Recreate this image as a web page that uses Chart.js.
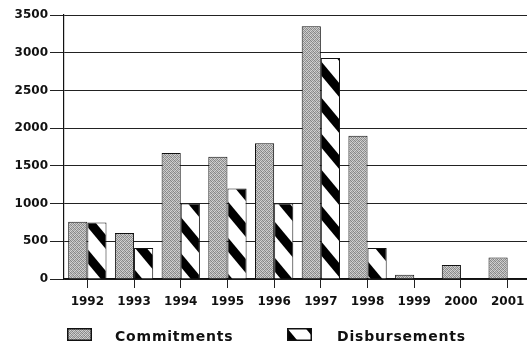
<!DOCTYPE html>
<html>
<head>
<meta charset="utf-8">
<script src="https://cdn.jsdelivr.net/npm/chart.js@4.4.1/dist/chart.umd.min.js"></script>
<style>
  html, body { margin: 0; padding: 0; background: #fff; overflow: hidden; }
  #wrap { position: relative; width: 527px; height: 350px; overflow: hidden; }
  #flows { position: absolute; left: 0; top: 0; }
  .key { position: absolute; top: 328px; width: 25px; height: 13px; }
  .key-text { position: absolute; top: 328px; line-height: 16px; font: bold 14px "DejaVu Sans", sans-serif; letter-spacing: 0.8px; color: #111; }
</style>
</head>
<body>
<div id="wrap">
  <canvas id="flows" width="532" height="350"></canvas>
  <canvas class="key" id="key_commit" width="25" height="13" style="left:67px"></canvas>
  <div class="key-text" style="left:115px">Commitments</div>
  <canvas class="key" id="key_disb" width="25" height="13" style="left:287px"></canvas>
  <div class="key-text" style="left:337px">Disbursements</div>
</div>
<script>
// Yearly flows
var years = ['1992', '1993', '1994', '1995', '1996', '1997', '1998', '1999', '2000', '2001']
var commitments = [760, 610, 1670, 1620, 1800, 3350, 1900, 55, 185, 285]
var disbursements = [750, 410, 1000, 1200, 1000, 2930, 410, 8, 0, 0]
var yTicks = [0, 500, 1000, 1500, 2000, 2500, 3000, 3500]

// stippled grey fill
const greyTile = () => {
  let c = document.createElement('canvas')
  c.width = 4; c.height = 4
  let g = c.getContext('2d')
  let shades = [
    [150, 205, 135, 195],
    [215, 145, 190, 130],
    [140, 200, 160, 210],
    [195, 130, 215, 150]
  ]
  for (let y = 0; y < 4; y++) {
    for (let x = 0; x < 4; x++) {
      let s = shades[y][x]
      g.fillStyle = 'rgb(' + s + ',' + s + ',' + s + ')'
      g.fillRect(x, y, 1, 1)
    }
  }
  return c
}

// white with thick black "\" stripes
const stripeTile = () => {
  let c = document.createElement('canvas')
  c.width = 30; c.height = 36
  let g = c.getContext('2d')
  g.fillStyle = '#fff'
  g.fillRect(0, 0, 30, 36)
  g.fillStyle = '#000'
  for (let k = -1; k <= 1; k++) {
    let y0 = k * 36
    g.beginPath()
    g.moveTo(0, y0)
    g.lineTo(30, y0 + 36)
    g.lineTo(30, y0 + 36 + 14)
    g.lineTo(0, y0 + 14)
    g.closePath()
    g.fill()
  }
  return c
}

var mainCtx = document.getElementById('flows').getContext('2d')
var greyFill = mainCtx.createPattern(greyTile(), 'repeat')
var stripeFill = mainCtx.createPattern(stripeTile(), 'repeat')

// legend swatches
const drawKey = (id, tile) => {
  let k = document.getElementById(id).getContext('2d')
  k.fillStyle = k.createPattern(tile, 'repeat')
  k.fillRect(0, 0, 25, 13)
  k.strokeStyle = '#111'
  k.lineWidth = 1.5
  k.strokeRect(0.75, 0.75, 23.5, 11.5)
}
drawKey('key_commit', greyTile())
drawKey('key_disb', stripeTile())

var tickFont = { family: '"DejaVu Sans", sans-serif', size: 12, weight: 'bold' }

new Chart(mainCtx, {
  type: 'bar',
  data: {
    labels: years,
    datasets: [
      {
        label: 'Commitments',
        data: commitments,
        backgroundColor: greyFill,
        borderColor: '#111',
        borderWidth: 1
      },
      {
        label: 'Disbursements',
        data: disbursements,
        backgroundColor: stripeFill,
        borderColor: '#111',
        borderWidth: 1
      }
    ]
  },
  options: {
    responsive: false,
    animation: false,
    devicePixelRatio: 1,
    layout: { padding: { top: 15, left: 0, right: 1, bottom: 0 } },
    datasets: { bar: { categoryPercentage: 0.82, barPercentage: 1.0 } },
    plugins: {
      legend: { display: false },
      tooltip: { enabled: false }
    },
    scales: {
      x: {
        grid: { display: true, drawOnChartArea: false, drawTicks: true, tickLength: 9, offset: false, color: '#222' },
        border: { display: true, color: '#111', width: 1.5 },
        ticks: { color: '#111', font: tickFont, padding: 7, maxRotation: 0, autoSkip: false },
        afterFit: (scale) => { scale.height = 71 }
      },
      y: {
        min: 0,
        max: 3500,
        afterBuildTicks: (scale) => { scale.ticks = yTicks.map((v) => ({ value: v })) },
        grid: { color: '#222', lineWidth: 1, drawTicks: true, tickLength: 14 },
        border: { display: true, color: '#111', width: 1.2 },
        ticks: { color: '#111', font: tickFont, padding: 2, callback: (v) => String(v) },
        afterFit: (scale) => { scale.width = 64 }
      }
    }
  }
})
</script>
</body>
</html>
